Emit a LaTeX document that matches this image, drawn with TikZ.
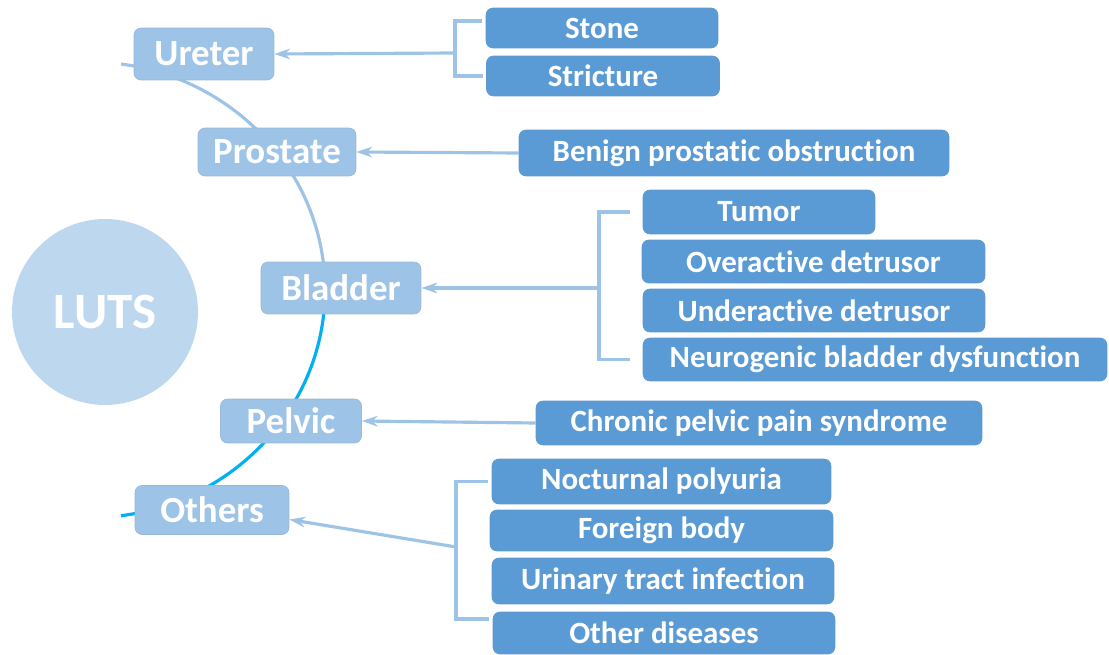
\documentclass[tikz,border=0pt]{standalone}
\usepackage{fontspec}
\setmainfont{Carlito}[RawFeature={-liga;-calt;-clig}]
\usetikzlibrary{arrows.meta}

\definecolor{lutsblue}{HTML}{BDD7EE}
\definecolor{midblue}{HTML}{9DC3E6}
\definecolor{boxblue}{HTML}{5B9BD5}
\definecolor{arccyan}{HTML}{00B0F0}

\tikzset{
    organ/.style={draw=midblue!85!gray, fill=midblue, rounded corners=4pt,
        text=white, inner sep=0pt, font=\bfseries\fontsize{21}{25}\selectfont},
    cause/.style={draw=boxblue!90!gray, fill=boxblue, rounded corners=4pt,
        text=white, inner sep=0pt, font=\bfseries\fontsize{17.6}{21}\selectfont},
    link/.style={midblue, line width=1.8pt, -{Stealth[length=9pt,width=6pt]}},
    brace/.style={midblue, line width=1.8pt},
}

\begin{document}
\begin{tikzpicture}[x=0.02cm, y=-0.02cm]
    \useasboundingbox (0,0) rectangle (1109,655);

    % the arc behind the organ nodes
    \draw[midblue, line width=1.8pt]
        (121,64) arc[start angle=-82, end angle=0, x radius=237, y radius=228];
    \draw[arccyan, line width=1.8pt]
        (325,290) arc[start angle=0, end angle=82, x radius=237, y radius=228];

    \node[circle, fill=lutsblue, minimum size=3.72cm, text=white,
        font=\bfseries\fontsize{29}{35}\selectfont] (luts) at (105,312) {LUTS};

    \node[organ, minimum width=2.8cm, minimum height=1.04cm] (ureter) at (204,54) {Ureter};
    \node[organ, minimum width=3.16cm, minimum height=0.96cm] (prostate) at (277,152) {Prostate};
    \node[organ, minimum width=3.2cm, minimum height=1.04cm] (bladder) at (341,288) {Bladder};
    \node[organ, minimum width=2.82cm, minimum height=0.88cm] (pelvic) at (291,421) {Pelvic};
    \node[organ, minimum width=3.08cm, minimum height=0.98cm] (others) at (212,510) {Others};

    \node[cause, minimum width=4.64cm, minimum height=0.8cm] (stone) at (602,28) {Stone};
    \node[cause, minimum width=4.66cm, minimum height=0.8cm] (stricture) at (603,76) {Stricture};
    \node[cause, minimum width=8.6cm, minimum height=0.92cm] (benign) at (734,153) {Benign prostatic obstruction};
    \node[cause, minimum width=4.64cm, minimum height=0.88cm] (tumor) at (759,212) {Tumor};
    \node[cause, minimum width=6.86cm, minimum height=0.86cm] (overactive) at (813.5,261.5) {Overactive detrusor};
    \node[cause, minimum width=6.84cm, minimum height=0.86cm] (underactive) at (814,310.5) {Underactive detrusor};
    \node[cause, minimum width=9.28cm, minimum height=0.86cm] (neuro) at (875,359.5) {Neurogenic bladder dysfunction};
    \node[cause, minimum width=8.92cm, minimum height=0.88cm] (chronic) at (759,423) {Chronic pelvic pain syndrome};
    \node[cause, minimum width=6.78cm, minimum height=0.9cm] (nocturnal) at (661.5,481.5) {Nocturnal polyuria};
    \node[cause, minimum width=6.86cm, minimum height=0.82cm] (foreign) at (661.5,530.5) {Foreign body};
    \node[cause, minimum width=6.84cm, minimum height=0.92cm] (urinary) at (663,581) {Urinary tract infection};
    \node[cause, minimum width=6.84cm, minimum height=0.84cm] (otherdis) at (664,633) {Other diseases};

    % brackets
    \coordinate (ubr) at (455,53);
    \coordinate (bbr) at (599,288);
    \coordinate (obr) at (456,547);
    \draw[brace] ([xshift=-2pt,yshift=4pt]stone.west) -| (ubr) |- ([xshift=-2pt]stricture.west);
    \draw[brace] ([xshift=-7pt]tumor.west) -| (bbr) |- ([xshift=-7pt]neuro.west);
    \draw[brace] ([xshift=-2pt]nocturnal.west) -| (obr) |- ([xshift=-2pt,yshift=8pt]otherdis.west);

    % arrows
    \draw[link] (ubr) -- (ureter.east);
    \draw[link] (benign.west) -- (prostate.east);
    \draw[link] (bbr) -- (bladder.east);
    \draw[link] (chronic.west) -- (pelvic.east);
    \draw[link] (obr) -- (others.-7);
\end{tikzpicture}
\end{document}
